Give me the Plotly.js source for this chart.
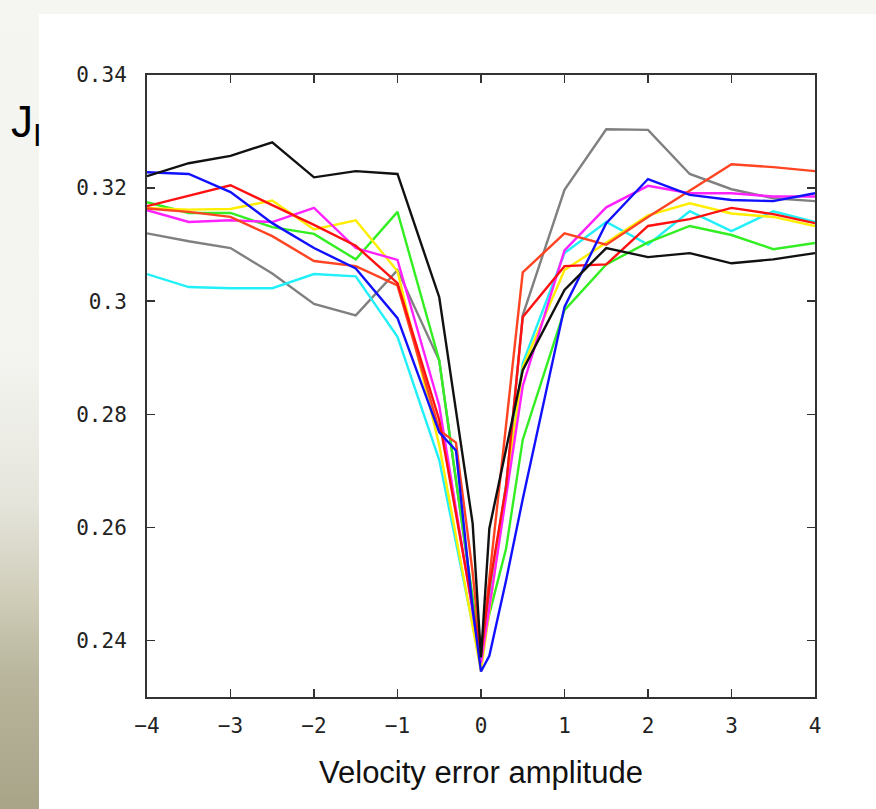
<!DOCTYPE html>
<html>
<head>
<meta charset="utf-8">
<script src="https://cdn.plot.ly/plotly-3.0.1.min.js"></script>
<style>
  html, body { margin:0; padding:0; width:876px; height:809px; overflow:hidden; background:#f5f5f2; }
  #strip { position:absolute; left:0; top:0; width:39px; height:809px;
    background: linear-gradient(to bottom, #f5f5f2 0%, #f3f3ef 45%, #e6e5dc 62%, #cfccb8 74%, #b8b59c 84%, #a8a488 100%); }
  #panel { position:absolute; left:39px; top:14px; width:837px; height:795px; background:#ffffff; }
  #chart { position:absolute; left:0; top:0; width:876px; height:809px; }
</style>
</head>
<body>
<div id="strip"></div>
<div id="panel"></div>
<div id="chart"></div>
<script>
// Velocity error amplitude (x) for all series
const velocityError = [-4,-3.5,-3,-2.5,-2,-1.5,-1,-0.5,-0.3,-0.1,0,0.1,0.3,0.5,1,1.5,2,2.5,3,3.5,4];

// J_I values per series
const seriesGray    = [0.3120,0.3106,0.3094,0.3049,0.2995,0.2975,0.3055,0.2895,0.2683,0.2471,0.2365,0.2487,0.2670,0.2975,0.3197,0.3304,0.3303,0.3225,0.3198,0.3182,0.3177];
const seriesCyan    = [0.3048,0.3025,0.3023,0.3023,0.3048,0.3044,0.2937,0.2719,0.2573,0.2428,0.2355,0.2462,0.2676,0.2890,0.3085,0.3140,0.3100,0.3159,0.3124,0.3159,0.3140];
const seriesGreen   = [0.3175,0.3156,0.3156,0.3131,0.3119,0.3074,0.3158,0.2895,0.2685,0.2475,0.2370,0.2447,0.2562,0.2755,0.2984,0.3065,0.3104,0.3133,0.3117,0.3092,0.3103];
const seriesYellow  = [0.3165,0.3162,0.3163,0.3178,0.3127,0.3143,0.3053,0.2745,0.2585,0.2425,0.2345,0.2453,0.2668,0.2883,0.3055,0.3103,0.3152,0.3173,0.3155,0.3149,0.3133];
const seriesMagenta = [0.3161,0.3140,0.3143,0.3140,0.3165,0.3094,0.3073,0.2815,0.2633,0.2451,0.2360,0.2458,0.2655,0.2850,0.3090,0.3166,0.3204,0.3191,0.3191,0.3185,0.3185];
const seriesOrange  = [0.3164,0.3158,0.3149,0.3115,0.3071,0.3062,0.3028,0.2772,0.2750,0.2520,0.2375,0.2510,0.2772,0.3051,0.3120,0.3100,0.3149,0.3195,0.3242,0.3237,0.3230];
const seriesRed     = [0.3168,0.3186,0.3205,0.3170,0.3135,0.3098,0.3032,0.2790,0.2624,0.2458,0.2375,0.2494,0.2673,0.2972,0.3062,0.3065,0.3133,0.3145,0.3165,0.3154,0.3138];
const seriesBlue    = [0.3228,0.3225,0.3193,0.3138,0.3094,0.3058,0.2970,0.2768,0.2736,0.2455,0.2345,0.2373,0.2506,0.2650,0.2990,0.3138,0.3216,0.3188,0.3179,0.3177,0.3191];
const seriesBlack   = [0.3221,0.3244,0.3257,0.3281,0.3219,0.3230,0.3225,0.3007,0.2807,0.2607,0.2370,0.2598,0.2738,0.2878,0.3020,0.3094,0.3078,0.3085,0.3067,0.3074,0.3085];

const xTickVals = [-4,-3,-2,-1,0,1,2,3,4];
const yTickVals = [0.24,0.26,0.28,0.3,0.32,0.34];
const yTickText = ["0.24","0.26","0.28","0.3","0.32","0.34"];

const seriesList = [
  {y: seriesGray,    color:'#808080'},
  {y: seriesCyan,    color:'#22f0f8'},
  {y: seriesGreen,   color:'#33ee22'},
  {y: seriesYellow,  color:'#ffee00'},
  {y: seriesMagenta, color:'#ff22ff'},
  {y: seriesOrange,  color:'#ff4422'},
  {y: seriesRed,     color:'#ff1111'},
  {y: seriesBlue,    color:'#1111ff'},
  {y: seriesBlack,   color:'#111111'}
];

const traces = seriesList.map(s => ({
  x: velocityError, y: s.y, type:'scatter', mode:'lines',
  line:{color:s.color, width:2.4}, hoverinfo:'skip'
}));

const tickFont = {family:'"DejaVu Sans Mono", "Liberation Mono", monospace', size:21, color:'#222'};

const layout = {
  width:876, height:809,
  margin:{l:147, r:61, t:75, b:112, pad:0},
  paper_bgcolor:'rgba(0,0,0,0)', plot_bgcolor:'#ffffff',
  showlegend:false,
  xaxis:{
    range:[-4,4], tickvals:xTickVals, ticks:'inside', ticklen:8, tickwidth:1.5, tickcolor:'#333',
    showline:true, linecolor:'#333', linewidth:2, mirror:'ticks', showgrid:false, zeroline:false,
    tickfont:tickFont, ticklabelstandoff:9,
    title:{text:'Velocity error amplitude', font:{family:'"Liberation Sans", Arial, sans-serif', size:31, color:'#111'}, standoff:24}
  },
  yaxis:{
    range:[0.23,0.34], tickvals:yTickVals, ticktext:yTickText, ticks:'inside', ticklen:8, tickwidth:1.5, tickcolor:'#333',
    showline:true, linecolor:'#333', linewidth:2, mirror:'ticks', showgrid:false, zeroline:false,
    tickfont:tickFont, ticklabelstandoff:14
  },
  annotations:[{
    text:'J<sub>I</sub>', xref:'paper', yref:'paper', x:-0.207, y:0.968, xanchor:'left', yanchor:'top',
    showarrow:false, font:{family:'"Liberation Sans", Arial, sans-serif', size:44, color:'#000'}
  }]
};

Plotly.newPlot('chart', traces, layout, {displayModeBar:false, staticPlot:true});
</script>
</body>
</html>
